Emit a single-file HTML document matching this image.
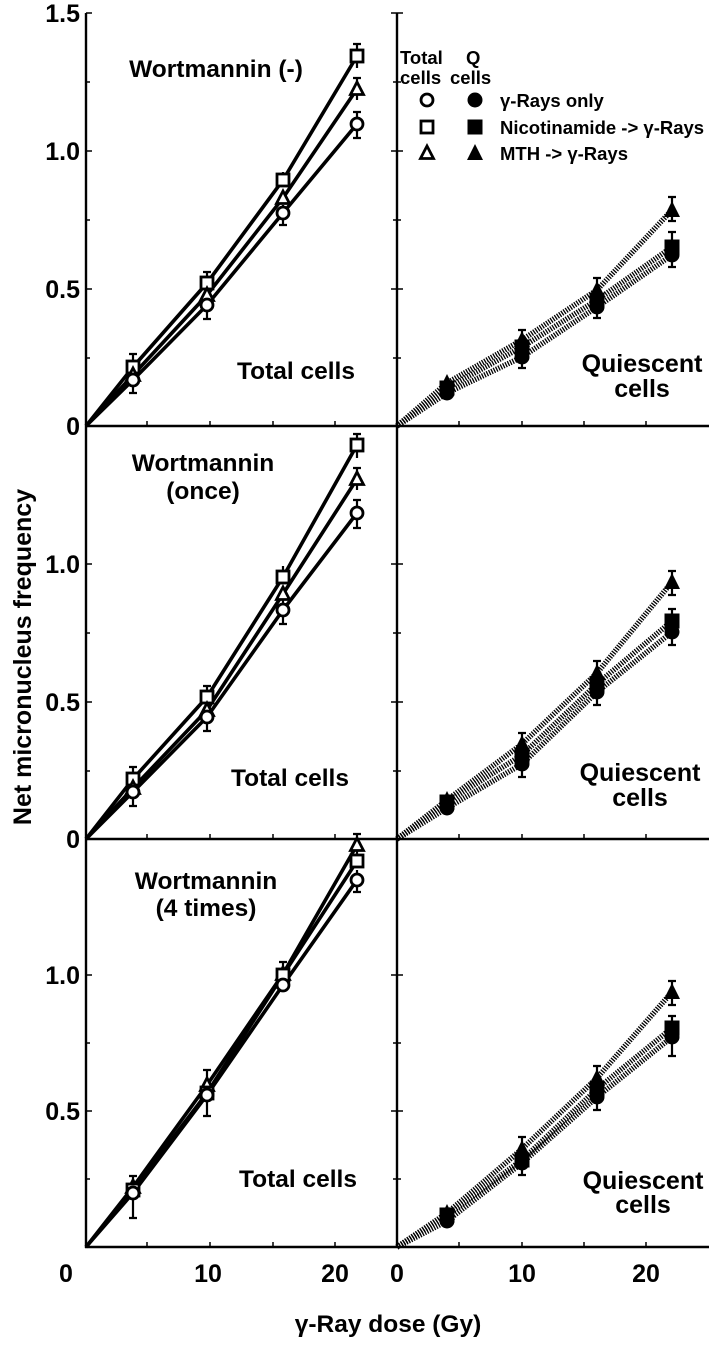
<!DOCTYPE html>
<html><head><meta charset="utf-8"><style>
html,body{margin:0;padding:0;background:#fff;}
svg{display:block;}
text{font-family:"Liberation Sans",Arial,sans-serif;font-weight:bold;fill:#000;}
</style></head><body>
<svg width="709" height="1348" viewBox="0 0 709 1348" xmlns="http://www.w3.org/2000/svg">
<defs>
<g id="oc"><circle r="6" fill="#fff" stroke="#000" stroke-width="2.8"/></g>
<g id="os"><rect x="-6" y="-6" width="12" height="12" fill="#fff" stroke="#000" stroke-width="2.8"/></g>
<g id="ot"><polygon points="0,-7 6.5,5.5 -6.5,5.5" fill="#fff" stroke="#000" stroke-width="2.8" stroke-linejoin="miter"/></g>
<g id="fc"><circle r="7.5" fill="#000"/></g>
<g id="fs"><rect x="-7.5" y="-7.5" width="15" height="15" fill="#000"/></g>
<g id="ft"><polygon points="0,-9 8,7 -8,7" fill="#000"/></g>
</defs>

<g stroke="#000" stroke-width="2.4" fill="none">
<line x1="86" y1="13" x2="86" y2="1248"/>
<line x1="397" y1="13" x2="397" y2="1248"/>
<line x1="85" y1="426" x2="709" y2="426"/>
<line x1="85" y1="839" x2="709" y2="839"/>
<line x1="85" y1="1247" x2="709" y2="1247"/>
</g>
<g stroke="#000" stroke-width="1.5">
<path d="M147 426v-5M210 426v-5M273 426v-5M335 426v-5M459 426v-5M522 426v-5M584 426v-5M646 426v-5
M147 839v-5M210 839v-5M273 839v-5M335 839v-5M459 839v-5M522 839v-5M584 839v-5M646 839v-5
M147 1247v-5M210 1247v-5M273 1247v-5M335 1247v-5M459 1247v-5M522 1247v-5M584 1247v-5M646 1247v-5"/>
<path d="M86 13h6M86 82h4M86 151h6M86 220h4M86 289h6M86 358h4
M86 564h6M86 633h4M86 702h6M86 771h4
M86 975h6M86 1043h4M86 1111h6M86 1179h4
M391 13h12M393 82h8M391 151h12M393 220h8M391 289h12M393 358h8
M391 564h12M393 633h8M391 702h12M393 771h8
M391 975h12M393 1043h8M391 1111h12M393 1179h8"/>
</g>

<g font-size="25" text-anchor="end">
<text x="80" y="22">1.5</text>
<text x="80" y="160">1.0</text>
<text x="80" y="298">0.5</text>
<text x="80" y="435">0</text>
<text x="80" y="573">1.0</text>
<text x="80" y="711">0.5</text>
<text x="80" y="848">0</text>
<text x="80" y="984">1.0</text>
<text x="80" y="1120">0.5</text>
</g>
<g font-size="25" text-anchor="middle">
<text x="66" y="1282">0</text>
<text x="208" y="1282">10</text>
<text x="335" y="1282">20</text>
<text x="397" y="1282">0</text>
<text x="522" y="1282">10</text>
<text x="646" y="1282">20</text>
</g>
<text x="388" y="1332" font-size="24.5" text-anchor="middle">γ-Ray dose (Gy)</text>
<text transform="translate(31,657) rotate(-90)" font-size="25" text-anchor="middle">Net micronucleus frequency</text>

<g font-size="24.5" text-anchor="middle">
<text x="216" y="77">Wortmannin (-)</text>
<text x="296" y="379">Total cells</text>
<text x="203" y="471">Wortmannin</text>
<text x="203" y="499">(once)</text>
<text x="290" y="786">Total cells</text>
<text x="206" y="889">Wortmannin</text>
<text x="206" y="916">(4 times)</text>
<text x="298" y="1187">Total cells</text>
</g>
<g font-size="25" text-anchor="middle">
<text x="642" y="372">Quiescent</text>
<text x="642" y="397">cells</text>
<text x="640" y="781">Quiescent</text>
<text x="640" y="806">cells</text>
<text x="643" y="1189">Quiescent</text>
<text x="643" y="1213">cells</text>
</g>

<g font-size="18.5">
<text x="400" y="64">Total</text>
<text x="400" y="84">cells</text>
<text x="466" y="64">Q</text>
<text x="450" y="84">cells</text>
</g>
<use href="#oc" x="427" y="100"/><use href="#fc" x="475" y="100"/>
<use href="#os" x="427" y="127"/><use href="#fs" x="475" y="127"/>
<use href="#ot" x="427" y="153"/><use href="#ft" x="475" y="153"/>
<g font-size="18.5">
<text x="500" y="107">γ-Rays only</text>
<text x="500" y="134">Nicotinamide -&gt; γ-Rays</text>
<text x="500" y="160">MTH -&gt; γ-Rays</text>
</g>

<g stroke="#000" stroke-width="3.6" fill="none" stroke-linejoin="round">
<polyline points="86,426 133,367 207,283 283,180 357,56"/>
<polyline points="86,426 133,375 207,295 283,198 357,89"/>
<polyline points="86,426 133,380 207,305 283,213 357,124"/>
<polyline points="86,839 133,779 207,697 283,577 357,445"/>
<polyline points="86,839 133,788 207,710 283,594 357,479"/>
<polyline points="86,839 133,792 207,717 283,610 357,513"/>
<polyline points="86,1247 133,1187 207,1085 283,974 357,845"/>
<polyline points="86,1247 133,1190 207,1093 283,975 357,861"/>
<polyline points="86,1247 133,1193 207,1095 283,985 357,880"/>
</g>
<g stroke="#000" stroke-width="2.2" fill="none">
<path d="M133 354v26M129 354h8M129 380h8 M133 367v26M129 393h8
M207 272v22M203 272h8 M207 305v14M203 319h8
M283 172v14M283 205v20M279 225h8
M357 44v24M353 44h8 M357 78v22M353 78h8 M357 112v26M353 112h8M353 138h8
M133 767v26M129 767h8 M133 792v14M129 806h8
M207 686v20M203 686h8 M207 717v14M203 731h8
M283 566v14M283 600v24M279 624h8
M357 434v24M353 434h8 M357 468v22M353 468h8 M357 500v28M353 500h8M353 528h8
M133 1176v42M129 1176h8M129 1218h8
M207 1070v46M203 1070h8M203 1116h8
M283 962v26M279 962h8
M357 834v22M353 834h8 M357 870v22M353 892h8"/>
</g>
<use href="#os" x="133" y="367"/><use href="#ot" x="133" y="375"/><use href="#oc" x="133" y="380"/>
<use href="#os" x="207" y="283"/><use href="#ot" x="207" y="295"/><use href="#oc" x="207" y="305"/>
<use href="#os" x="283" y="180"/><use href="#ot" x="283" y="198"/><use href="#oc" x="283" y="213"/>
<use href="#os" x="357" y="56"/><use href="#ot" x="357" y="89"/><use href="#oc" x="357" y="124"/>
<use href="#os" x="133" y="779"/><use href="#ot" x="133" y="788"/><use href="#oc" x="133" y="792"/>
<use href="#os" x="207" y="697"/><use href="#ot" x="207" y="710"/><use href="#oc" x="207" y="717"/>
<use href="#os" x="283" y="577"/><use href="#ot" x="283" y="594"/><use href="#oc" x="283" y="610"/>
<use href="#os" x="357" y="445"/><use href="#ot" x="357" y="479"/><use href="#oc" x="357" y="513"/>
<use href="#ot" x="133" y="1187"/><use href="#os" x="133" y="1190"/><use href="#oc" x="133" y="1193"/>
<use href="#ot" x="207" y="1085"/><use href="#os" x="207" y="1093"/><use href="#oc" x="207" y="1095"/>
<use href="#ot" x="283" y="974"/><use href="#os" x="283" y="975"/><use href="#oc" x="283" y="985"/>
<use href="#ot" x="357" y="845"/><use href="#os" x="357" y="861"/><use href="#oc" x="357" y="880"/>

<g stroke="#000" stroke-width="5.5" fill="none" stroke-dasharray="1.3 1.3" stroke-linejoin="round">
<polyline points="397,426 447,383 522,340 597,290 672,210"/>
<polyline points="397,426 447,388 522,347 597,300 672,247"/>
<polyline points="397,426 447,393 522,357 597,307 672,255"/>
<polyline points="397,839 447,800 522,744 597,673 672,582"/>
<polyline points="397,839 447,802 522,755 597,684 672,621"/>
<polyline points="397,839 447,808 522,764 597,692 672,632"/>
<polyline points="397,1247 447,1213 522,1149 597,1078 672,992"/>
<polyline points="397,1247 447,1215 522,1160 597,1089 672,1028"/>
<polyline points="397,1247 447,1221 522,1163 597,1097 672,1037"/>
</g>
<g stroke="#000" stroke-width="2.2" fill="none">
<path d="M522 330v38M518 330h8M518 368h8 M597 278v40M593 278h8M593 318h8 M672 197v24M668 197h8M668 221h8 M672 232v35M668 232h8M668 267h8
M522 733v44M518 733h8M518 777h8 M597 661v44M593 661h8M593 705h8 M672 571v24M668 571h8M668 595h8 M672 609v36M668 609h8M668 645h8
M522 1137v38M518 1137h8M518 1175h8 M597 1066v44M593 1066h8M593 1110h8 M672 981v24M668 981h8M668 1005h8 M672 1016v40M668 1016h8M668 1056h8"/>
</g>
<use href="#ft" x="447" y="383"/><use href="#fs" x="447" y="388"/><use href="#fc" x="447" y="393"/>
<use href="#ft" x="522" y="340"/><use href="#fs" x="522" y="347"/><use href="#fc" x="522" y="357"/>
<use href="#ft" x="597" y="290"/><use href="#fs" x="597" y="300"/><use href="#fc" x="597" y="307"/>
<use href="#ft" x="672" y="210"/><use href="#fs" x="672" y="247"/><use href="#fc" x="672" y="255"/>
<use href="#ft" x="447" y="800"/><use href="#fs" x="447" y="802"/><use href="#fc" x="447" y="808"/>
<use href="#ft" x="522" y="744"/><use href="#fs" x="522" y="755"/><use href="#fc" x="522" y="764"/>
<use href="#ft" x="597" y="673"/><use href="#fs" x="597" y="684"/><use href="#fc" x="597" y="692"/>
<use href="#ft" x="672" y="582"/><use href="#fs" x="672" y="621"/><use href="#fc" x="672" y="632"/>
<use href="#ft" x="447" y="1213"/><use href="#fs" x="447" y="1215"/><use href="#fc" x="447" y="1221"/>
<use href="#ft" x="522" y="1149"/><use href="#fs" x="522" y="1160"/><use href="#fc" x="522" y="1163"/>
<use href="#ft" x="597" y="1078"/><use href="#fs" x="597" y="1089"/><use href="#fc" x="597" y="1097"/>
<use href="#ft" x="672" y="992"/><use href="#fs" x="672" y="1028"/><use href="#fc" x="672" y="1037"/>
</svg>
</body></html>
